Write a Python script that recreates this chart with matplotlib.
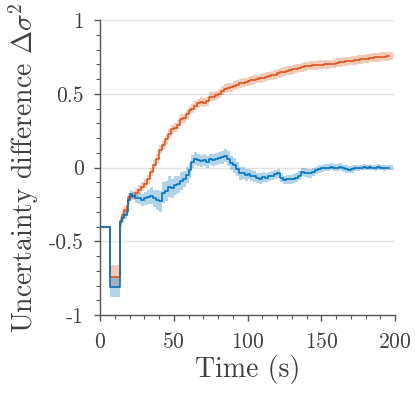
import numpy as np
import matplotlib
matplotlib.use("Agg")
import matplotlib.pyplot as plt
from matplotlib.ticker import MultipleLocator, FixedLocator

plt.rcParams['font.family'] = 'serif'
plt.rcParams['font.serif'] = ['cmr10', 'DejaVu Serif']
plt.rcParams['mathtext.fontset'] = 'cm'
plt.rcParams['axes.unicode_minus'] = False
plt.rcParams['axes.formatter.use_mathtext'] = True

# ---- data ----
blue_t = [0, 6.8, 13.6, 15, 16.5, 18, 19.2,
          20, 22, 24, 26, 28, 30, 32, 34, 36, 38, 40, 42, 44, 46, 48, 50,
          52, 54, 56, 58, 60, 62, 64, 66, 68, 70, 72, 74, 76, 78, 80,
          82, 84, 86, 88, 90, 92, 94, 96, 98, 100, 102, 104, 106, 108, 110,
          112, 114, 116, 118, 120, 122, 124, 126, 128, 130, 132, 134, 136, 138, 140,
          142, 144, 146, 148, 150, 152, 154, 156, 158, 160, 162, 164, 166, 168, 170,
          172, 174, 176, 178, 180, 182, 184, 186, 188, 190, 192, 194, 196]
blue_y = [-0.40, -0.81, -0.37, -0.34, -0.32, -0.30, -0.22,
          -0.18, -0.19, -0.21, -0.21, -0.22, -0.21, -0.20, -0.19, -0.21, -0.22, -0.23, -0.17, -0.16, -0.13, -0.14, -0.12,
          -0.115, -0.09, -0.08, -0.05, -0.02, 0.04, 0.06, 0.05, 0.045, 0.05, 0.04, 0.055, 0.05, 0.06, 0.065,
          0.07, 0.08, 0.06, 0.03, 0.015, -0.01, -0.04, -0.035, -0.05, -0.045, -0.055, -0.06, -0.07, -0.075, -0.065,
          -0.07, -0.06, -0.055, -0.045, -0.04, -0.07, -0.085, -0.08, -0.08, -0.075, -0.07, -0.055, -0.03, -0.035, -0.04,
          -0.04, -0.03, -0.02, -0.01, -0.005, 0.0, 0.0, 0.005, 0.0, 0.0, 0.005, -0.005, -0.01, -0.015, -0.01,
          -0.005, -0.005, 0.0, 0.005, 0.0, 0.005, 0.0, -0.005, 0.005, 0.0, -0.005, 0.0, 0.0]
blue_err = [0.0, 0.07, 0.03, 0.03, 0.03, 0.03, 0.03,
            0.025, 0.025, 0.03, 0.035, 0.04, 0.045, 0.05, 0.055, 0.06, 0.065, 0.07, 0.07, 0.07, 0.07, 0.065, 0.065,
            0.06, 0.06, 0.055, 0.055, 0.05, 0.045, 0.045, 0.04, 0.04, 0.04, 0.04, 0.04, 0.04, 0.04, 0.04,
            0.045, 0.045, 0.05, 0.05, 0.05, 0.045, 0.045, 0.04, 0.04, 0.035, 0.035, 0.035, 0.035, 0.035, 0.035,
            0.03, 0.03, 0.03, 0.03, 0.03, 0.03, 0.03, 0.03, 0.03, 0.03, 0.03, 0.03, 0.03, 0.03, 0.03,
            0.03, 0.025, 0.025, 0.025, 0.025, 0.025, 0.025, 0.025, 0.025, 0.025, 0.025, 0.025, 0.025, 0.025, 0.025,
            0.02, 0.02, 0.02, 0.02, 0.02, 0.02, 0.02, 0.02, 0.02, 0.02, 0.02, 0.02, 0.02]

orange_t = blue_t
orange_y = [-0.40, -0.74, -0.36, -0.32, -0.29, -0.26, -0.20,
            -0.20, -0.19, -0.17, -0.15, -0.13, -0.11, -0.08, -0.03, 0.02, 0.06, 0.12, 0.15, 0.19, 0.23, 0.26, 0.27,
            0.29, 0.33, 0.335, 0.36, 0.39, 0.40, 0.42, 0.435, 0.445, 0.44, 0.45, 0.48, 0.48, 0.49, 0.50,
            0.52, 0.535, 0.54, 0.545, 0.555, 0.56, 0.57, 0.575, 0.58, 0.585, 0.59, 0.595, 0.60, 0.605, 0.61,
            0.615, 0.62, 0.625, 0.63, 0.64, 0.645, 0.65, 0.655, 0.66, 0.665, 0.67, 0.675, 0.68, 0.685, 0.688,
            0.69, 0.692, 0.694, 0.696, 0.698, 0.70, 0.70, 0.702, 0.705, 0.71, 0.713, 0.716, 0.72, 0.722, 0.725,
            0.728, 0.73, 0.733, 0.736, 0.739, 0.742, 0.744, 0.746, 0.748, 0.75, 0.752, 0.754, 0.756]
orange_err = [0.0, 0.08] + [0.03] * (len(orange_t) - 2)

x_ticks = [0, 50, 100, 150, 200]
y_ticks = [-1, -0.5, 0, 0.5, 1]
y_ticklabels = ['-1', '-0.5', '0', '0.5', '1']

# ---- plot ----
BLUE = '#0072BD'
ORANGE = '#D95319'
TXT = '#404040'
AX = '#555555'

fig = plt.figure(figsize=(4.15, 3.97), dpi=100)
ax = fig.add_axes([0.241, 0.2065, 0.711, 0.7431])

for yv in [-0.5, 0, 0.5, 1]:
    ax.axhline(yv, color='#e3e3e3', lw=1.0, zorder=0)

ot = np.array(orange_t); oy = np.array(orange_y); oe = np.array(orange_err)
bt = np.array(blue_t); by = np.array(blue_y); be = np.array(blue_err)

ot_ext = np.append(ot, 198.5)
oy_ext = np.append(oy, oy[-1]); oe_ext = np.append(oe, oe[-1])
bt_ext = np.append(bt, 198.5)
by_ext = np.append(by, by[-1]); be_ext = np.append(be, be[-1])

ax.fill_between(ot_ext, oy_ext - oe_ext, oy_ext + oe_ext, step='post',
                color=ORANGE, alpha=0.3, lw=0, zorder=1)
ax.fill_between(bt_ext, by_ext - be_ext, by_ext + be_ext, step='post',
                color=BLUE, alpha=0.3, lw=0, zorder=1)
ax.step(ot, oy, where='post', color=ORANGE, lw=1.15, zorder=2)
ax.step(bt, by, where='post', color=BLUE, lw=1.15, zorder=3)

ax.set_xlim(0, 200)
ax.set_ylim(-1, 1)
ax.xaxis.set_major_locator(FixedLocator(x_ticks))
ax.xaxis.set_minor_locator(MultipleLocator(10))
ax.yaxis.set_major_locator(FixedLocator(y_ticks))
ax.set_yticklabels(y_ticklabels)
ax.yaxis.set_minor_locator(MultipleLocator(0.1))

for s in ['top', 'right']:
    ax.spines[s].set_visible(False)
for s in ['left', 'bottom']:
    ax.spines[s].set_color(AX)
    ax.spines[s].set_linewidth(1.0)

ax.tick_params(which='major', direction='out', length=4.5, width=1.0, color=AX,
               labelsize=15.5, labelcolor=TXT)
ax.tick_params(axis='x', which='major', pad=8)
ax.tick_params(axis='y', which='major', pad=7)
ax.tick_params(which='minor', direction='out', length=3, width=0.8, color=AX)

ax.set_xlabel('Time (s)', fontsize=20, color=TXT, labelpad=2)
ax.set_ylabel(r'Uncertainty difference $\Delta\sigma^2$', fontsize=20, color=TXT, labelpad=6)

fig.savefig('out.png', dpi=100)
